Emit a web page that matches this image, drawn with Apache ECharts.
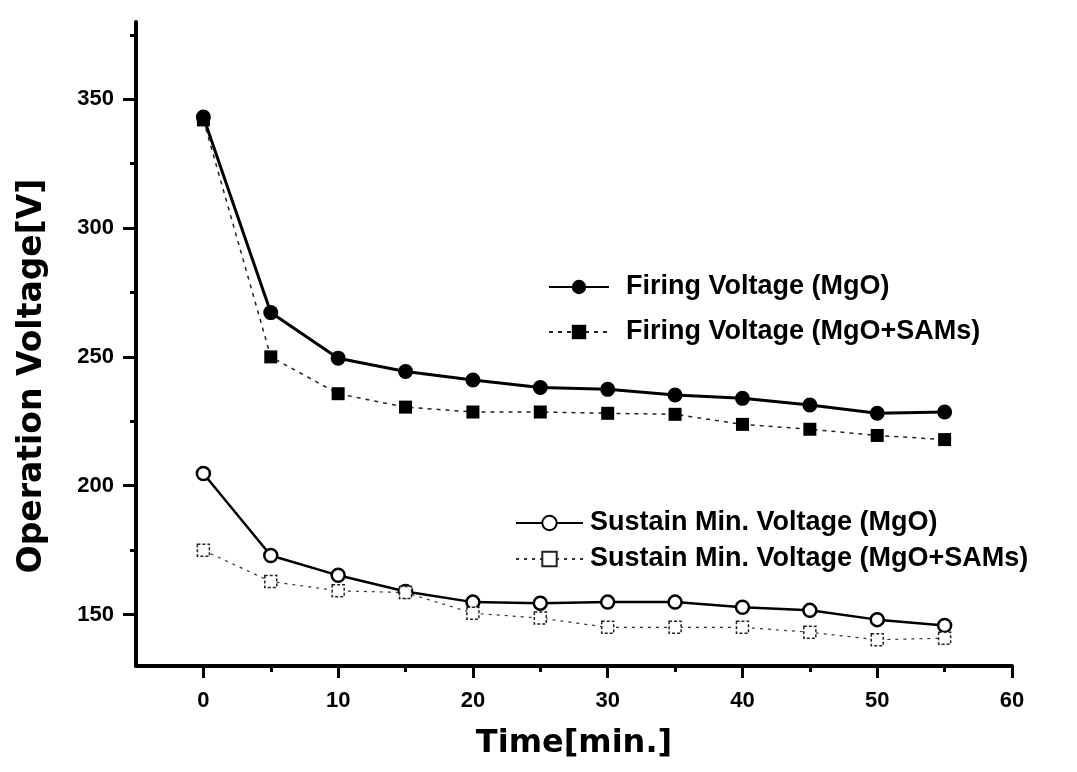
<!DOCTYPE html>
<html>
<head>
<meta charset="utf-8">
<script src="https://cdn.jsdelivr.net/npm/echarts@6/dist/echarts.min.js"></script>
<style>
  html, body { margin: 0; padding: 0; background: #fff; }
  #main { width: 1077px; height: 772px; }
</style>
</head>
<body>
<div id="main"></div>
<script>
// data
var time = [0, 5, 10, 15, 20, 25, 30, 35, 40, 45, 50, 55];
var firingMgO   = [343.1, 267.2, 249.5, 244.3, 241.0, 238.1, 237.4, 235.2, 233.9, 231.3, 228.1, 228.6];
var firingSAMs  = [342.0, 250.0, 235.7, 230.5, 228.6, 228.6, 228.1, 227.7, 223.8, 221.9, 219.5, 217.9];
var sustainMgO  = [204.7, 172.9, 165.2, 158.9, 154.8, 154.4, 154.8, 154.8, 152.8, 151.6, 148.0, 145.7];
var sustainSAMs = [174.9, 162.8, 159.2, 158.5, 150.5, 148.6, 145.0, 145.0, 145.0, 143.1, 140.2, 140.8];

var xLabels = [0, 10, 20, 30, 40, 50, 60];
var xMinor = [0, 5, 10, 15, 20, 25, 30, 35, 40, 45, 50, 55, 60];
var yLabels = [150, 200, 250, 300, 350];
var yMinor = [150, 175, 200, 225, 250, 275, 300, 325, 350, 375];

function pairs(ys) {
    return time.map(function (t, i) { return [t, ys[i]]; });
}

var font = "'Liberation Sans', Arial, sans-serif";
var chart = echarts.init(document.getElementById('main'));

option = {
    backgroundColor: '#fff',
    animation: false,
    grid: { left: 136, right: 65, top: 22, bottom: 106, containLabel: false },
    xAxis: [
        {
            type: 'value', min: -5, max: 60,
            name: 'Time[min.]', nameLocation: 'middle', nameGap: 62,
            nameTextStyle: { fontFamily: 'DejaVu Sans', fontWeight: 'bold', fontSize: 32, color: '#000' },
            axisLine: { show: true, onZero: false, lineStyle: { color: '#000', width: 4 } },
            axisTick: { show: true, length: 6, customValues: xMinor, lineStyle: { color: '#000', width: 3 } },
            axisLabel: { customValues: xLabels, margin: 24, color: '#000', fontFamily: font, fontWeight: 'bold', fontSize: 22 },
            splitLine: { show: false }
        },
        {
            type: 'value', min: -5, max: 60, position: 'bottom',
            axisLine: { show: false, onZero: false },
            axisTick: { show: true, length: 12, customValues: xLabels, lineStyle: { color: '#000', width: 3 } },
            axisLabel: { show: false },
            splitLine: { show: false }
        }
    ],
    yAxis: [
        {
            type: 'value', min: 130, max: 380,
            axisLine: { show: true, onZero: false, lineStyle: { color: '#000', width: 4 } },
            axisTick: { show: true, length: 6, customValues: yMinor, lineStyle: { color: '#000', width: 3 } },
            axisLabel: { customValues: yLabels, margin: 22, color: '#000', fontFamily: font, fontWeight: 'bold', fontSize: 22 },
            splitLine: { show: false }
        },
        {
            type: 'value', min: 130, max: 380, position: 'left',
            axisLine: { show: false, onZero: false },
            axisTick: { show: true, length: 13, customValues: yLabels, lineStyle: { color: '#000', width: 3 } },
            axisLabel: { show: false },
            splitLine: { show: false }
        }
    ],
    legend: [
        {
            data: ['Firing Voltage (MgO)', 'Firing Voltage (MgO+SAMs)'],
            orient: 'vertical', left: 543, top: 267,
            itemWidth: 60, itemHeight: 18, itemGap: 15,
            textStyle: { color: '#000', fontFamily: font, fontWeight: 'bold', fontSize: 27, lineHeight: 30, padding: [0, 0, 0, 12] }
        },
        {
            data: ['Sustain Min. Voltage (MgO)', 'Sustain Min. Voltage (MgO+SAMs)'],
            orient: 'vertical', left: 510, top: 503,
            itemWidth: 67, itemHeight: 18, itemGap: 6,
            textStyle: { color: '#000', fontFamily: font, fontWeight: 'bold', fontSize: 27, lineHeight: 30, padding: [0, 0, 0, 2] }
        }
    ],
    graphic: [
        {
            type: 'text', x: 32, y: 376, rotation: Math.PI / 2,
            style: {
                text: 'Operation Voltage[V]', fill: '#000',
                font: 'bold 33px "DejaVu Sans"', textAlign: 'center', textVerticalAlign: 'middle'
            }
        }
    ],
    series: [
        {
            name: 'Firing Voltage (MgO)', type: 'line', data: pairs(firingMgO),
            symbol: 'circle', symbolSize: 15,
            lineStyle: { color: '#000', width: 3 },
            itemStyle: { color: '#000' }
        },
        {
            name: 'Firing Voltage (MgO+SAMs)', type: 'line', data: pairs(firingSAMs),
            symbol: 'rect', symbolSize: 13,
            lineStyle: { color: '#222', width: 1.5, type: [4, 5] },
            itemStyle: { color: '#000' }
        },
        {
            name: 'Sustain Min. Voltage (MgO)', type: 'line', data: pairs(sustainMgO),
            symbol: 'circle', symbolSize: 13,
            lineStyle: { color: '#000', width: 2.5 },
            itemStyle: { color: '#fff', borderColor: '#000', borderWidth: 2.5 }
        },
        {
            name: 'Sustain Min. Voltage (MgO+SAMs)', type: 'line', data: pairs(sustainSAMs),
            symbol: 'rect', symbolSize: 12,
            lineStyle: { color: '#333', width: 1.2, type: [3, 5] },
            itemStyle: { color: '#fff', borderColor: '#222', borderWidth: 1.5, borderType: [3, 2] }
        }
    ]
};

chart.setOption(option);
</script>
</body>
</html>
